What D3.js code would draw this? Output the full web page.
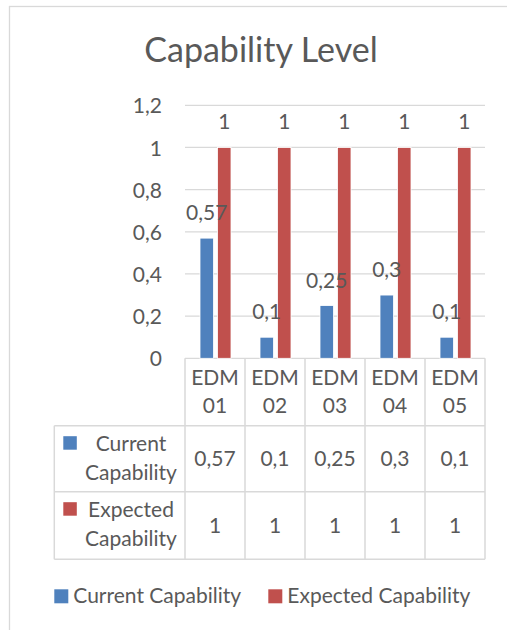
<!DOCTYPE html>
<html>
<head>
<meta charset="utf-8">
<script src="https://cdn.jsdelivr.net/npm/d3@7"></script>
<style>
  body { margin: 0; background: #fff; }
  text { font-family: Lato, "Open Sans", sans-serif; fill: #595959; }
</style>
</head>
<body>
<div id="chart"></div>
<script>
const categories = ['EDM 01', 'EDM 02', 'EDM 03', 'EDM 04', 'EDM 05']
const seriesNames = ['Current Capability', 'Expected Capability']
const currentValues = [0.57, 0.1, 0.25, 0.3, 0.1]
const expectedValues = [1, 1, 1, 1, 1]
const yTicks = [0, 0.2, 0.4, 0.6, 0.8, 1, 1.2]
const colors = ['#4f81bd', '#c0504d']

const width = 507
const height = 630
const gridColor = '#d9d9d9'
const fontSize = '21px'

const comma = d3.formatLocale({ decimal: ',', thousands: '.', grouping: [3], currency: ['', ''] })
const fmt = comma.format('~g')

const svg = d3.select('#chart')
    .append('svg')
    .attr('width', width)
    .attr('height', height)

// chart frame, runs off the right and bottom edges
svg.append('rect')
    .attr('x', 9.5).attr('y', 6.5)
    .attr('width', 540).attr('height', 660)
    .attr('fill', 'none')
    .attr('stroke', gridColor)
    .attr('stroke-width', 1.3)

svg.append('text')
    .attr('x', 261).attr('y', 62)
    .attr('text-anchor', 'middle')
    .style('font-size', '34px')
    .text('Capability Level')

let x = d3.scaleBand()
    .domain(categories)
    .range([185, 485])

let xSeries = d3.scaleBand()
    .domain(seriesNames)
    .range([15, 46])
    .paddingInner(0.23)

let y = d3.scaleLinear()
    .domain([0, 1.2])
    .range([358.3, 105.3])

// gridlines
svg.append('g')
    .selectAll('line')
    .data(yTicks)
    .enter().append('line')
    .attr('x1', x.range()[0]).attr('x2', x.range()[1])
    .attr('y1', (d) => y(d)).attr('y2', (d) => y(d))
    .attr('stroke', gridColor)
    .attr('stroke-width', 1.3)

let yAxis = d3.axisLeft(y)
    .tickValues(yTicks)
    .tickFormat(fmt)
    .tickSize(0)
    .tickPadding(0)

svg.append('g')
    .attr('transform', 'translate(162,0)')
    .call(yAxis)
    .call((g) => g.select('.domain').remove())
    .call((g) => g.selectAll('text')
        .attr('fill', null)
        .attr('dy', '0.36em')
        .style('font-size', fontSize)
        .style('font-family', null))

let rows = [currentValues, expectedValues]
let points = []
rows.forEach((vals, s) => vals.forEach((v, i) => points.push({ v: v, i: i, s: s })))

svg.append('g')
    .selectAll('rect')
    .data(points)
    .enter().append('rect')
    .attr('x', (d) => x(categories[d.i]) + xSeries(seriesNames[d.s]))
    .attr('width', xSeries.bandwidth())
    .attr('y', (d) => y(d.v))
    .attr('height', (d) => y(0) - y(d.v))
    .attr('fill', (d) => colors[d.s])
    .attr('stroke', '#fff')
    .attr('stroke-width', 0.8)

// labels go on top of every bar
svg.append('g')
    .selectAll('text')
    .data(points)
    .enter().append('text')
    .attr('x', (d) => x(categories[d.i]) + xSeries(seriesNames[d.s]) + xSeries.bandwidth() / 2)
    .attr('y', (d) => y(d.v) - 18)
    .attr('text-anchor', 'middle')
    .style('font-size', fontSize)
    .text((d) => fmt(d.v))

// data table
let tableLeft = 54.3
let rowLines = [425.7, 491.7, 559.3]
let table = svg.append('g')
    .attr('stroke', gridColor)
    .attr('stroke-width', 1.5)

let colEdges = categories.map((c) => x(c)).concat([x.range()[1]])
table.selectAll('.vline')
    .data(colEdges)
    .enter().append('line')
    .attr('x1', (d) => d).attr('x2', (d) => d)
    .attr('y1', y(0)).attr('y2', rowLines[2])

table.append('line')
    .attr('x1', tableLeft).attr('x2', tableLeft)
    .attr('y1', rowLines[0]).attr('y2', rowLines[2])

table.selectAll('.hline')
    .data(rowLines)
    .enter().append('line')
    .attr('x1', tableLeft).attr('x2', x.range()[1])
    .attr('y1', (d) => d).attr('y2', (d) => d)

// category labels, two lines each
let catText = svg.selectAll('.cat')
    .data(categories)
    .enter().append('text')
    .attr('class', 'cat')
    .attr('text-anchor', 'middle')
    .style('font-size', fontSize)

catText.selectAll('tspan')
    .data((d) => d.split(' ').map((t) => ({ t: t, c: d })))
    .enter().append('tspan')
    .attr('x', (d) => x(d.c) + x.bandwidth() / 2)
    .attr('y', (d, j) => 385 + j * 28)
    .text((d) => d.t)

// row headers and values
rows.forEach((vals, s) => {
    let top = rowLines[s]
    let bottom = rowLines[s + 1]
    let mid = (top + bottom) / 2
    let words = seriesNames[s].split(' ')

    svg.append('rect')
        .attr('x', 63.3).attr('y', top + 10.5)
        .attr('width', 13.5).attr('height', 13.5)
        .attr('fill', colors[s])

    svg.append('text')
        .attr('text-anchor', 'middle')
        .style('font-size', fontSize)
        .selectAll('tspan')
        .data(words)
        .enter().append('tspan')
        .attr('x', 131)
        .attr('y', (d, j) => top + 25 + j * 29)
        .text((d) => d)

    svg.selectAll('.val' + s)
        .data(vals)
        .enter().append('text')
        .attr('class', 'val' + s)
        .attr('x', (d, i) => x(categories[i]) + x.bandwidth() / 2)
        .attr('y', mid + 7)
        .attr('text-anchor', 'middle')
        .style('font-size', fontSize)
        .text((d) => fmt(d))
})

// legend
let legendX = [54.3, 268.3]
let legend = svg.selectAll('.legend')
    .data(seriesNames)
    .enter().append('g')
    .attr('class', 'legend')
    .attr('transform', (d, i) => `translate(${legendX[i]}, 589.3)`)

legend.append('rect')
    .attr('width', 14).attr('height', 14)
    .attr('fill', (d, i) => colors[i])

legend.append('text')
    .attr('x', 19).attr('y', 14)
    .style('font-size', fontSize)
    .text((d) => d)
</script>
</body>
</html>
